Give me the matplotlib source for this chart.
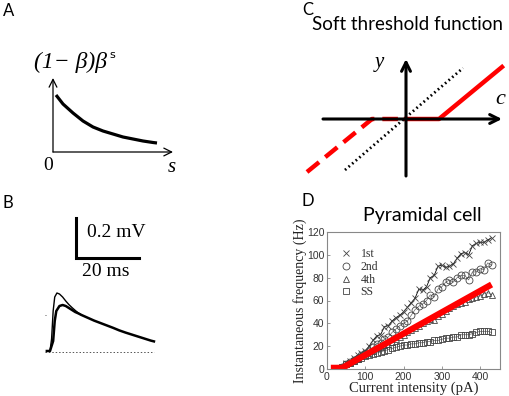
import matplotlib
matplotlib.use("Agg")
import matplotlib.pyplot as plt

W, H = 510, 396
SERIF = "Liberation Serif"
SANS = "Lato"

# --- panel A: kernel (1-beta)beta^s ---
a_s = [0.3, 1, 2, 3, 4, 5, 6, 7, 8, 9, 10, 10.4]
a_y = [5.7, 4.8, 3.9, 3.1, 2.5, 2.1, 1.8, 1.5, 1.3, 1.1, 0.95, 0.9]

# --- panel B: EPSP traces (ms, mV) ---
b_t_upper = [-1, 0, 0.5, 1.0, 1.5, 2.2, 3, 4, 5, 6, 7, 8, 9, 10]
b_v_upper = [0, 0, 0.06, 0.2, 0.27, 0.29, 0.285, 0.27, 0.25, 0.232, 0.217, 0.203, 0.19, 0.18]
b_t_lower = [-1, 0, 1, 1.5, 2, 3, 4, 5, 6, 7, 8, 9, 10, 12, 14, 16, 18, 20, 22, 24, 26, 28, 30, 32, 33]
b_v_lower = [0, 0, 0.05, 0.15, 0.2, 0.225, 0.23, 0.225, 0.215, 0.205, 0.195, 0.188, 0.18, 0.166,
             0.152, 0.14, 0.128, 0.116, 0.103, 0.092, 0.082, 0.072, 0.062, 0.052, 0.048]

# --- panel C: soft threshold ---
c_neg_x = [-9.9, -3.4, 0]
c_neg_y = [-5.3, 0, 0]
c_pos_x = [0, 3.3, 9.6]
c_pos_y = [0, 0, 5.2]
c_ident_x = [-6.1, 5.7]
c_ident_y = [-5.1, 5.1]

# --- panel D: pyramidal cell f-I curves ---
current = [40, 50, 60, 70, 80, 90, 100, 110, 120, 130, 140, 150, 160, 170, 180, 190, 200,
           210, 220, 230, 240, 250, 260, 270, 280, 290, 300, 310, 320, 330, 340, 350, 360,
           370, 380, 390, 400, 410, 420, 430]
freq_1st = [2, 5, 7, 10, 12, 14, 16, 20, 25, 29, 30, 37, 38, 42, 45, 47, 50, 54, 58, 62,
            70, 69, 72, 80, 82, 90, 91, 89, 90, 92, 97, 101, 102, 100, 108, 110, 111, 111, 113, 115]
freq_2nd = [2, 4, 6, 8, 10, 12, 14, 16, 19, 22, 23, 26, 28, 32, 35, 38, 40, 42, 47, 52,
            55, 57, 60, 65, 63, 70, 72, 76, 78, 76, 80, 82, 82, 78, 85, 85, 88, 87, 93, 91]
freq_4th = [2, 4, 5, 7, 9, 11, 12, 14, 16, 18, 19, 21, 22, 24, 26, 28, 30, 32, 34, 36,
            38, 40, 42, 44, 43, 46, 48, 51, 53, 55, 57, 58, 59, 61, 62, 63, 64, 66, 67, 65]
freq_ss = [2, 4, 5, 7, 9, 10, 11, 12, 13, 14, 15, 16, 17, 18, 19, 20, 21, 21, 22, 22,
           23, 23, 24, 24, 25, 25, 26, 27, 27, 28, 28, 30, 30, 30, 31, 32, 33, 33, 33, 32]
fit_x = [10, 40, 430]
fit_y = [1, 1, 74]

fig = plt.figure(figsize=(W / 100, H / 100), dpi=100)


def px_axes(x0, y0, x1, y1):
    return fig.add_axes([x0 / W, 1 - y1 / H, (x1 - x0) / W, (y1 - y0) / H])


def ftxt(x, y, s, **kw):
    kw.setdefault("va", "center")
    fig.text(x / W, 1 - y / H, s, **kw)


# panel letters
for lab, x, y in [("A", 3, 11), ("B", 3, 203), ("C", 302, 10), ("D", 302, 201)]:
    ftxt(x, y, lab, family=SANS, fontsize=12)

# ---------------- A ----------------
axA = px_axes(53, 72, 180, 152)
axA.set_xlim(0, 12.7)
axA.set_ylim(0, 8.0)
axA.axis("off")
arrow = dict(arrowstyle="->", lw=0.9, color="k", shrinkA=0, shrinkB=0, mutation_scale=14)
axA.annotate("", xy=(12.0, 0), xytext=(0, 0), arrowprops=arrow, annotation_clip=False)
axA.annotate("", xy=(0, 7.4), xytext=(0, 0), arrowprops=arrow, annotation_clip=False)
axA.plot(a_s, a_y, color="k", lw=2.3, solid_capstyle="butt")
ftxt(34, 62, "(1\u2212 \u03b2)\u03b2", family=SERIF, style="italic", fontsize=17)
ftxt(109, 55, "s", family="DejaVu Sans", fontsize=8)
ftxt(48, 166, "0", family=SERIF, fontsize=14, ha="center")
ftxt(172, 167, "s", family=SERIF, style="italic", fontsize=15, ha="center")

# ---------------- B ----------------
axB = px_axes(40, 205, 170, 360)
axB.set_xlim((40 - 50) / 3.15, (170 - 50) / 3.15)
axB.set_ylim((351 - 360) / 200, (351 - 205) / 200)
axB.axis("off")
axB.plot([8.25, 8.25, 28.25], [0.665, 0.465, 0.465], color="k", lw=2.2, solid_joinstyle="miter")
axB.plot([-1.5, 33], [-0.006, -0.006], color="#555555", lw=0.7, ls=(0, (1.5, 2)))
axB.plot([-1.5, -1.0], [0.18, 0.18], color="#555555", lw=0.7, ls=(0, (1, 1.5)))
axB.plot(b_t_upper, b_v_upper, color="k", lw=1.0)
axB.plot(b_t_lower, b_v_lower, color="k", lw=1.8)
ftxt(87, 233, "0.2 mV", family=SERIF, fontsize=14)
ftxt(106, 272, "20 ms", family=SERIF, fontsize=14, ha="center")

# ---------------- C ----------------
axC = px_axes(300, 50, 510, 185)
axC.set_xlim(-10.6, 10.4)
axC.set_ylim((119 - 185) / 10, (119 - 50) / 10)
axC.axis("off")
arrowC = dict(arrowstyle="->", lw=2.2, color="k", shrinkA=0, shrinkB=0, mutation_scale=16)
axC.annotate("", xy=(9.6, 0), xytext=(-8.3, 0), arrowprops=arrowC, annotation_clip=False)
axC.annotate("", xy=(0, 6.0), xytext=(0, -5.7), arrowprops=arrowC, annotation_clip=False)
axC.plot(c_ident_x, c_ident_y, color="k", lw=2.0, ls=(0, (0.6, 1.1)))
axC.plot(c_neg_x, c_neg_y, color="#ff0000", lw=3.2, ls=(0, (3.5, 1.8)))
axC.plot(c_pos_x, c_pos_y, color="#ff0000", lw=3.2)
ftxt(407, 25, "Soft threshold function", family=SANS, fontsize=13.5, ha="center")
ftxt(379, 62, "y", family=SERIF, style="italic", fontsize=15, ha="center")
ftxt(500, 100, "c", family=SERIF, style="italic", fontsize=16, ha="center")

# ---------------- D ----------------
axD = px_axes(327, 232, 500, 369)
gray = "#444444"
axD.plot(current, freq_1st, color="k", lw=0.6)
axD.plot(current, freq_2nd, color="#666666", lw=0.5)
axD.plot(current, freq_4th, color="#888888", lw=0.5)
axD.plot(current, freq_ss, color="#666666", lw=0.5)
mk = dict(ls="none", markersize=5, mew=0.6, fillstyle="none")
axD.plot(current, freq_1st, marker="x", color=gray, label="1st", **mk)
axD.plot(current, freq_2nd, marker="o", color=gray, label="2nd", **mk)
axD.plot(current, freq_4th, marker="^", color=gray, label="4th", **mk)
axD.plot(current, freq_ss, marker="s", color=gray, label="SS", **mk)
axD.plot(fit_x, fit_y, color="#ff0000", lw=4.5, solid_capstyle="butt")
axD.set_xlim(0, 452)
axD.set_ylim(0, 120)
axD.set_xticks([0, 100, 200, 300, 400])
axD.set_yticks([0, 20, 40, 60, 80, 100, 120])
for sp in axD.spines.values():
    sp.set_color("#888888")
    sp.set_linewidth(0.8)
axD.tick_params(direction="in", length=2, width=0.6, colors="#888888",
                labelcolor="#333333", labelsize=7.5, pad=2)
for t in axD.get_xticklabels() + axD.get_yticklabels():
    t.set_family("Liberation Sans")
axD.set_xlabel("Current intensity (pA)", family=SERIF, fontsize=10.5, color="#222222")
axD.set_ylabel("Instantaneous frequency (Hz)", family=SERIF, fontsize=10, color="#222222")
axD.xaxis.set_label_coords(0.5, -0.095)
axD.yaxis.set_label_coords(-0.118, 0.5)
axD.legend(loc="upper left", bbox_to_anchor=(0.03, 0.94), frameon=False,
           prop={"family": SERIF, "size": 8.5}, labelcolor="#333333",
           handlelength=1.0, handletextpad=0.7, labelspacing=0.05, borderpad=0.2)
ftxt(422, 216, "Pyramidal cell", family=SANS, fontsize=14, ha="center")

fig.savefig("out.png", dpi=100)
